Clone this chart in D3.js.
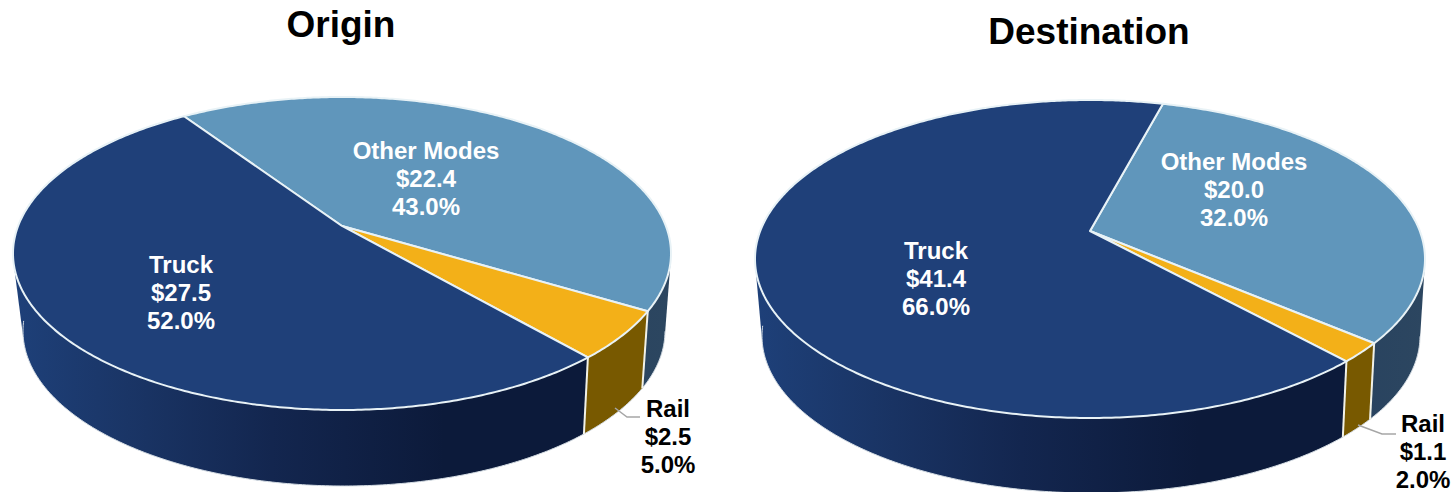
<!DOCTYPE html>
<html>
<head>
<meta charset="utf-8">
<script src="https://cdn.jsdelivr.net/npm/d3@7"></script>
<style>
  html, body { margin: 0; padding: 0; background: #fff; }
  text { font-family: "Liberation Sans", Arial, sans-serif; font-weight: bold; text-anchor: middle; }
</style>
</head>
<body>
<div id="chart"></div>
<script>
// chart values
var modes = ["Other Modes", "Rail", "Truck"];
var originValues = [22.4, 2.5, 27.5];
var originShares = [43.0, 5.0, 52.0];
var destinationValues = [20.0, 1.1, 41.4];
var destinationShares = [32.0, 2.0, 66.0];

var topColors = { "Other Modes": "#6096bb", "Rail": "#f3b018", "Truck": "#1f4079" };
var railWall = "#785900";

// layout of the two pies, kept apart from the values
var pies = [
  { id: "o", title: "Origin", titleX: 341, titleY: 37, values: originValues, shares: originShares, start: -34,
    top: { cx: 342, cy: 253.5, rx: 329, ry: 156.5 },
    bottom: { cx: 344, cy: 331, rx: 321, ry: 155 },
    labels: { "Other Modes": [426, 159], "Rail": [668, 417], "Truck": [181, 273] },
    labelDark: "Rail",
    leader: [[615, 408], [627, 417], [640, 417]] },
  { id: "d", title: "Destination", titleX: 1089, titleY: 44, values: destinationValues, shares: destinationShares, start: 15,
    top: { cx: 1090, cy: 259, rx: 335, ry: 159 },
    bottom: { cx: 1091, cy: 336, rx: 329, ry: 157 },
    labels: { "Other Modes": [1234, 170], "Rail": [1423, 432], "Truck": [936, 259] },
    labelDark: "Rail",
    leader: [[1358, 425], [1382, 434], [1396, 434]] }
];

var perspective = -0.176;   // moves the pie centre up inside the ellipse
var lineGap = 28;

var svg = d3.select("#chart").append("svg")
  .attr("width", 1454)
  .attr("height", 492);

var defs = svg.append("defs");

// rim of the truck slice gets lighter to the left
function addGradient(id, stops) {
  var g = defs.append("linearGradient").attr("id", id)
    .attr("x1", "0").attr("x2", "1").attr("y1", "0").attr("y2", "0");
  stops.forEach(function (s) {
    g.append("stop").attr("offset", s[0]).attr("stop-color", s[1]);
  });
}
addGradient("truckWall", [[0, "#1e4079"], [0.2, "#1a3566"], [0.45, "#13264f"], [0.75, "#0c1a3a"], [1, "#0c1a3a"]]);
addGradient("otherWall", [[0, "#1f3a5e"], [1, "#2c4660"]]);

// tilted disc: unit circle point -> ellipse point with shifted centre
function project(ellipse, angle) {
  var u = Math.sin(angle), v = -Math.cos(angle);
  var a = perspective;
  var w = 1 + a * v;
  var x = d3.scaleLinear().domain([-1, 1]).range([ellipse.cx - ellipse.rx, ellipse.cx + ellipse.rx]);
  var y = d3.scaleLinear().domain([-1, 1]).range([ellipse.cy - ellipse.ry, ellipse.cy + ellipse.ry]);
  return [x(u * Math.sqrt(1 - a * a) / w), y((v + a) / w)];
}

function arcPoints(ellipse, a0, a1) {
  var n = Math.max(2, Math.ceil((a1 - a0) / 0.01));
  return d3.range(n + 1).map(function (i) {
    return project(ellipse, a0 + (a1 - a0) * i / n);
  });
}

var line = d3.line();

function drawPie(p) {
  var g = svg.append("g").attr("id", p.id);
  var startRad = p.start * Math.PI / 180;
  var arcs = d3.pie().sort(null).startAngle(startRad).endAngle(startRad + 2 * Math.PI)(p.shares);
  var apex = [p.top.cx, p.top.cy + perspective * p.top.ry];

  // side walls, the hull keeps the straight tangent at the sides of the disc
  arcs.forEach(function (d, i) {
    var mode = modes[i];
    var hull = d3.polygonHull(arcPoints(p.top, d.startAngle, d.endAngle)
      .concat(arcPoints(p.bottom, d.startAngle, d.endAngle)));
    g.append("path")
      .attr("d", line(hull) + "Z")
      .attr("fill", mode == "Truck" ? "url(#truckWall)" : mode == "Rail" ? railWall : "url(#otherWall)");
  });

  // light edge under the rim
  g.append("path")
    .attr("d", line(arcPoints(p.bottom, 1.75, 4.6)))
    .attr("fill", "none")
    .attr("stroke", "#d5dde4")
    .attr("stroke-width", 1);

  // vertical edges between the walls
  arcs.forEach(function (d) {
    var ang = d.endAngle;
    if (Math.cos(ang) > 0) return;
    g.append("path")
      .attr("d", line([project(p.top, ang), project(p.bottom, ang)]))
      .attr("stroke", "#f2f2e8")
      .attr("stroke-width", 2);
  });

  // top faces
  arcs.forEach(function (d, i) {
    var pts = [apex].concat(arcPoints(p.top, d.startAngle, d.endAngle));
    g.append("path")
      .attr("d", line(pts) + "Z")
      .attr("fill", topColors[modes[i]])
      .attr("stroke", "#e8f2f6")
      .attr("stroke-width", 2)
      .attr("stroke-linejoin", "round");
  });

  // leader line of the outside label
  g.append("path")
    .attr("d", line(p.leader))
    .attr("fill", "none")
    .attr("stroke", "#a6a6a6")
    .attr("stroke-width", 1.5);

  // labels
  modes.forEach(function (mode, i) {
    var pos = p.labels[mode];
    var rows = [mode, "$" + p.values[i].toFixed(1), p.shares[i].toFixed(1) + "%"];
    rows.forEach(function (r, j) {
      g.append("text")
        .attr("x", pos[0])
        .attr("y", pos[1] + j * lineGap)
        .attr("font-size", 24)
        .attr("fill", mode == p.labelDark ? "#000" : "#fff")
        .text(r);
    });
  });

  g.append("text")
    .attr("x", p.titleX)
    .attr("y", p.titleY)
    .attr("font-size", 37)
    .attr("fill", "#000")
    .text(p.title);
}

pies.forEach(drawPie);
</script>
</body>
</html>
